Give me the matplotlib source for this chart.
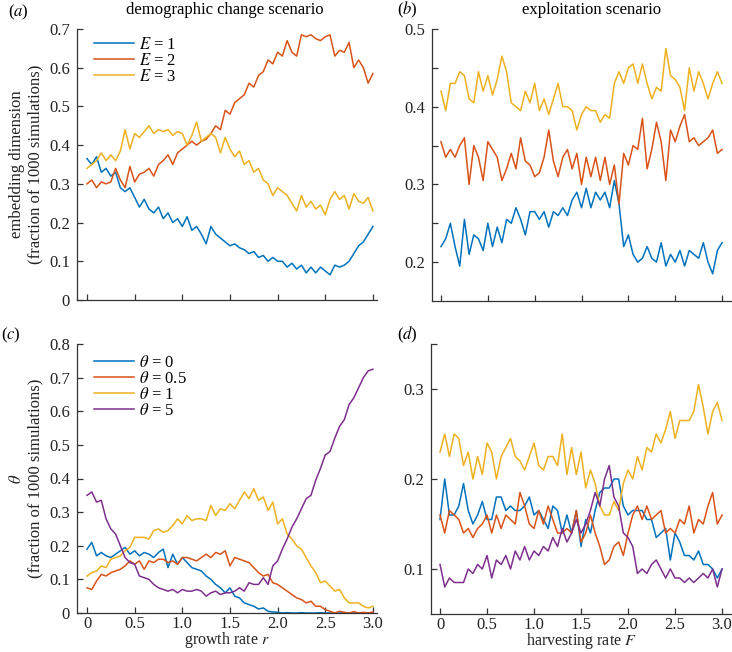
import numpy as np
import matplotlib
matplotlib.use("Agg")
import matplotlib.pyplot as plt

plt.rcParams['font.family'] = ['Liberation Serif', 'DejaVu Serif']
plt.rcParams['mathtext.fontset'] = 'stix'

# x grid (growth rate r / harvesting rate F)
x = np.linspace(0, 3, 61)

# (a) demographic change: embedding dimension
a_E1 = [0.365, 0.35, 0.37, 0.33, 0.34, 0.32, 0.33, 0.29, 0.28, 0.29, 0.265, 0.24, 0.26, 0.235, 0.225, 0.24,
        0.21, 0.225, 0.2, 0.21, 0.19, 0.215, 0.18, 0.19, 0.17, 0.145, 0.19, 0.17, 0.16, 0.15, 0.14, 0.145,
        0.135, 0.13, 0.12, 0.125, 0.11, 0.115, 0.1, 0.11, 0.1, 0.1, 0.085, 0.095, 0.08, 0.09, 0.07, 0.085,
        0.07, 0.085, 0.075, 0.065, 0.09, 0.085, 0.09, 0.1, 0.12, 0.14, 0.15, 0.17, 0.19]
a_E2 = [0.3, 0.31, 0.29, 0.305, 0.3, 0.305, 0.34, 0.31, 0.29, 0.345, 0.305, 0.325, 0.33, 0.34, 0.32, 0.35,
        0.36, 0.375, 0.35, 0.38, 0.39, 0.4, 0.41, 0.4, 0.41, 0.415, 0.43, 0.45, 0.44, 0.49, 0.48, 0.51,
        0.52, 0.53, 0.56, 0.55, 0.58, 0.59, 0.62, 0.61, 0.64, 0.63, 0.67, 0.64, 0.63, 0.685, 0.68, 0.685,
        0.675, 0.67, 0.68, 0.685, 0.63, 0.645, 0.64, 0.665, 0.6, 0.62, 0.6, 0.56, 0.585]
a_E3 = [0.34, 0.35, 0.36, 0.38, 0.36, 0.375, 0.36, 0.385, 0.44, 0.39, 0.43, 0.42, 0.435, 0.45, 0.43, 0.44,
        0.435, 0.44, 0.425, 0.435, 0.43, 0.4, 0.425, 0.46, 0.41, 0.42, 0.43, 0.42, 0.38, 0.42, 0.39, 0.37,
        0.385, 0.35, 0.36, 0.33, 0.34, 0.31, 0.3, 0.27, 0.29, 0.28, 0.27, 0.25, 0.23, 0.27, 0.24, 0.255,
        0.235, 0.245, 0.22, 0.26, 0.28, 0.26, 0.27, 0.235, 0.275, 0.255, 0.25, 0.265, 0.23]

# (b) exploitation: embedding dimension
b_E1 = [0.22, 0.23, 0.25, 0.22, 0.195, 0.255, 0.21, 0.235, 0.23, 0.215, 0.25, 0.22, 0.245, 0.225, 0.255,
        0.25, 0.27, 0.255, 0.235, 0.265, 0.265, 0.255, 0.265, 0.245, 0.265, 0.26, 0.27, 0.26, 0.28, 0.29,
        0.27, 0.295, 0.27, 0.29, 0.28, 0.29, 0.27, 0.305, 0.275, 0.22, 0.235, 0.21, 0.2, 0.205, 0.22,
        0.205, 0.2, 0.225, 0.195, 0.21, 0.2, 0.215, 0.195, 0.215, 0.21, 0.205, 0.225, 0.2, 0.185, 0.215,
        0.225]
b_E2 = [0.355, 0.335, 0.345, 0.335, 0.35, 0.36, 0.3, 0.35, 0.335, 0.305, 0.355, 0.345, 0.335, 0.305, 0.32,
        0.34, 0.32, 0.36, 0.33, 0.325, 0.31, 0.315, 0.335, 0.37, 0.33, 0.31, 0.335, 0.345, 0.32, 0.34,
        0.3, 0.335, 0.31, 0.335, 0.305, 0.335, 0.3, 0.325, 0.275, 0.34, 0.325, 0.35, 0.345, 0.385, 0.32,
        0.345, 0.38, 0.355, 0.305, 0.37, 0.355, 0.375, 0.39, 0.355, 0.36, 0.35, 0.355, 0.36, 0.37, 0.34,
        0.345]
b_E3 = [0.42, 0.395, 0.43, 0.43, 0.445, 0.44, 0.41, 0.405, 0.445, 0.42, 0.44, 0.415, 0.435, 0.465, 0.445,
        0.405, 0.4, 0.395, 0.42, 0.405, 0.43, 0.395, 0.41, 0.39, 0.41, 0.43, 0.4, 0.4, 0.395, 0.37,
        0.39, 0.4, 0.395, 0.395, 0.38, 0.39, 0.385, 0.43, 0.445, 0.43, 0.45, 0.455, 0.43, 0.455, 0.43,
        0.41, 0.425, 0.42, 0.475, 0.44, 0.435, 0.425, 0.395, 0.45, 0.42, 0.445, 0.43, 0.41, 0.43, 0.445,
        0.43]

# (c) demographic change: theta
c_t0 = [0.19, 0.21, 0.17, 0.18, 0.17, 0.165, 0.175, 0.185, 0.195, 0.175, 0.185, 0.17, 0.18, 0.175, 0.165,
        0.18, 0.19, 0.135, 0.175, 0.145, 0.165, 0.15, 0.135, 0.13, 0.125, 0.11, 0.1, 0.085, 0.075, 0.06,
        0.075, 0.05, 0.045, 0.03, 0.025, 0.02, 0.012, 0.015, 0.005, 0.003, 0.002, 0.0, 0.001, 0.0, 0.0,
        0.001, 0.0, 0.0, 0.0, 0.001, 0.0, 0.0, 0.0, 0.0, 0.001, 0.0, 0.0, 0.0, 0.0, 0.0, 0.0]
c_t05 = [0.075, 0.07, 0.095, 0.115, 0.11, 0.12, 0.125, 0.13, 0.14, 0.155, 0.145, 0.155, 0.13, 0.155, 0.15,
         0.16, 0.16, 0.15, 0.155, 0.145, 0.165, 0.165, 0.16, 0.155, 0.165, 0.175, 0.165, 0.18, 0.175, 0.185,
         0.14, 0.165, 0.16, 0.155, 0.15, 0.135, 0.12, 0.11, 0.115, 0.09, 0.085, 0.075, 0.065, 0.055, 0.045,
         0.04, 0.03, 0.035, 0.02, 0.02, 0.01, 0.005, 0.0, 0.005, 0.002, 0.0, 0.004, 0.0, 0.002, 0.0, 0.003]
c_t1 = [0.11, 0.12, 0.125, 0.14, 0.135, 0.16, 0.165, 0.17, 0.185, 0.195, 0.225, 0.225, 0.225, 0.22, 0.245,
        0.25, 0.24, 0.245, 0.26, 0.28, 0.265, 0.29, 0.275, 0.28, 0.28, 0.275, 0.32, 0.29, 0.31, 0.305,
        0.325, 0.31, 0.335, 0.36, 0.34, 0.37, 0.335, 0.345, 0.305, 0.33, 0.265, 0.28, 0.235, 0.22, 0.2,
        0.19, 0.165, 0.14, 0.12, 0.09, 0.095, 0.08, 0.065, 0.07, 0.045, 0.03, 0.03, 0.03, 0.02, 0.015, 0.02]
c_t5 = [0.35, 0.36, 0.33, 0.335, 0.28, 0.25, 0.235, 0.2, 0.165, 0.15, 0.145, 0.11, 0.105, 0.1, 0.085,
        0.075, 0.07, 0.065, 0.07, 0.06, 0.07, 0.065, 0.065, 0.07, 0.065, 0.05, 0.06, 0.065, 0.055, 0.06,
        0.06, 0.065, 0.075, 0.065, 0.09, 0.085, 0.085, 0.105, 0.085, 0.14, 0.155, 0.19, 0.22, 0.255, 0.28,
        0.31, 0.34, 0.35, 0.395, 0.43, 0.47, 0.48, 0.52, 0.555, 0.575, 0.62, 0.64, 0.67, 0.7, 0.72, 0.725]

# (d) exploitation: theta
d_t0 = [0.155, 0.2, 0.16, 0.16, 0.17, 0.195, 0.165, 0.15, 0.16, 0.175, 0.155, 0.155, 0.18, 0.18, 0.165,
        0.17, 0.165, 0.165, 0.17, 0.18, 0.16, 0.165, 0.155, 0.145, 0.17, 0.165, 0.14, 0.16, 0.14, 0.165,
        0.125, 0.155, 0.14, 0.165, 0.185, 0.19, 0.19, 0.2, 0.2, 0.17, 0.16, 0.165, 0.165, 0.165, 0.155,
        0.155, 0.135, 0.14, 0.145, 0.11, 0.14, 0.13, 0.115, 0.115, 0.11, 0.12, 0.105, 0.105, 0.1, 0.09, 0.1]
d_t05 = [0.16, 0.14, 0.165, 0.16, 0.155, 0.14, 0.145, 0.135, 0.145, 0.15, 0.16, 0.14, 0.16, 0.145, 0.16,
         0.155, 0.15, 0.185, 0.17, 0.15, 0.145, 0.165, 0.15, 0.17, 0.155, 0.14, 0.14, 0.145, 0.14, 0.165,
         0.13, 0.14, 0.16, 0.14, 0.125, 0.105, 0.11, 0.125, 0.13, 0.115, 0.14, 0.16, 0.17, 0.155, 0.17,
         0.155, 0.16, 0.165, 0.14, 0.145, 0.14, 0.155, 0.15, 0.17, 0.14, 0.155, 0.15, 0.17, 0.185, 0.15, 0.16]
d_t1 = [0.23, 0.25, 0.225, 0.25, 0.245, 0.215, 0.23, 0.2, 0.225, 0.205, 0.24, 0.23, 0.2, 0.225, 0.235,
        0.245, 0.225, 0.22, 0.21, 0.225, 0.24, 0.215, 0.21, 0.225, 0.225, 0.215, 0.25, 0.205, 0.235, 0.205,
        0.23, 0.19, 0.21, 0.195, 0.17, 0.16, 0.16, 0.175, 0.165, 0.195, 0.21, 0.2, 0.225, 0.21, 0.235,
        0.23, 0.25, 0.24, 0.255, 0.275, 0.245, 0.265, 0.265, 0.265, 0.275, 0.305, 0.28, 0.25, 0.275, 0.285,
        0.265]
d_t5 = [0.105, 0.08, 0.09, 0.085, 0.085, 0.085, 0.1, 0.095, 0.105, 0.1, 0.115, 0.09, 0.11, 0.105, 0.115,
        0.1, 0.12, 0.11, 0.125, 0.11, 0.12, 0.115, 0.125, 0.12, 0.135, 0.125, 0.145, 0.13, 0.14, 0.155,
        0.14, 0.15, 0.165, 0.185, 0.17, 0.2, 0.215, 0.18, 0.17, 0.14, 0.135, 0.125, 0.095, 0.1, 0.095,
        0.105, 0.11, 0.1, 0.09, 0.1, 0.09, 0.09, 0.085, 0.09, 0.085, 0.09, 0.095, 0.09, 0.1, 0.08, 0.1]

xticks = [0, 0.5, 1.0, 1.5, 2.0, 2.5, 3.0]
xticklabels = ['0', '0.5', '1.0', '1.5', '2.0', '2.5', '3.0']

blue, red, yellow, purple = '#0072BD', '#D95319', '#EDB120', '#7E2F8E'
axcol = '#333333'

W, H = 732, 652
fig = plt.figure(figsize=(W / 100, H / 100), dpi=100)


def px_axes(left, top, right, bottom):
    return fig.add_axes([left / W, 1 - bottom / H, (right - left) / W, (bottom - top) / H])


def style(ax):
    for s in ['top', 'right']:
        ax.spines[s].set_visible(False)
    for s in ['left', 'bottom']:
        ax.spines[s].set_color(axcol)
        ax.spines[s].set_linewidth(0.9)
    ax.tick_params(direction='in', length=4, width=0.9, color=axcol, labelcolor='#222222',
                   labelsize=12)
    ax.tick_params(axis='y', pad=5)
    ax.tick_params(axis='x', pad=2)


ax_a = px_axes(77, 29, 377, 300)
ax_b = px_axes(432, 29, 732, 301)
ax_c = px_axes(77, 344, 377, 613)
ax_d = px_axes(431, 344, 732, 614)

lw = 1.1
ax_a.plot(x, a_E1, color=blue, lw=lw, label=r'$E$ = 1')
ax_a.plot(x, a_E2, color=red, lw=lw, label=r'$E$ = 2')
ax_a.plot(x, a_E3, color=yellow, lw=lw, label=r'$E$ = 3')
ax_b.plot(x, b_E1, color=blue, lw=lw)
ax_b.plot(x, b_E2, color=red, lw=lw)
ax_b.plot(x, b_E3, color=yellow, lw=lw)
ax_c.plot(x, c_t0, color=blue, lw=lw, label=r'$\theta$ = 0')
ax_c.plot(x, c_t05, color=red, lw=lw, label=r'$\theta$ = 0.5')
ax_c.plot(x, c_t1, color=yellow, lw=lw, label=r'$\theta$ = 1')
ax_c.plot(x, c_t5, color=purple, lw=lw, label=r'$\theta$ = 5')
ax_d.plot(x, d_t0, color=blue, lw=lw)
ax_d.plot(x, d_t05, color=red, lw=lw)
ax_d.plot(x, d_t1, color=yellow, lw=lw)
ax_d.plot(x, d_t5, color=purple, lw=lw)

for ax in [ax_a, ax_b, ax_c, ax_d]:
    style(ax)
    ax.set_xticks(xticks)

ax_a.set_xlim(-0.105, 3.043)
ax_c.set_xlim(-0.105, 3.043)
ax_b.set_xlim(-0.096, 3.106)
ax_d.set_xlim(-0.096, 3.106)
ax_a.set_xticklabels([])
ax_b.set_xticklabels([])
ax_c.set_xticklabels(xticklabels)
ax_d.set_xticklabels(xticklabels)

ax_a.set_ylim(0, 0.7)
ax_a.set_yticks(np.arange(0, 0.71, 0.1))
ax_a.set_yticklabels(['0', '0.1', '0.2', '0.3', '0.4', '0.5', '0.6', '0.7'])
ax_b.set_ylim(0.15, 0.5)
ax_b.set_yticks([0.2, 0.25, 0.3, 0.35, 0.4, 0.45, 0.5])
ax_b.set_yticklabels(['0.2', '', '0.3', '', '0.4', '', '0.5'])
ax_c.set_ylim(0, 0.8)
ax_c.set_yticks(np.arange(0, 0.81, 0.1))
ax_c.set_yticklabels(['0', '0.1', '0.2', '0.3', '0.4', '0.5', '0.6', '0.7', '0.8'])
ax_d.set_ylim(0.05, 0.35)
ax_d.set_yticks([0.1, 0.2, 0.3, 0.35])
ax_d.set_yticklabels(['0.1', '0.2', '0.3', ''])

leg_kw = dict(loc='upper left', frameon=False, fontsize=12, handlelength=2.4, handletextpad=0.3,
              labelspacing=0.0, borderaxespad=0.0)
ax_a.legend(bbox_to_anchor=(0.035, 0.995), **leg_kw)
ax_c.legend(bbox_to_anchor=(0.035, 0.985), **leg_kw)

ax_a.set_ylabel('embedding dimension\n(fraction of 1000 simulations)', fontsize=12, labelpad=4,
                color='#222222')
ax_c.set_ylabel('$\\theta$\n(fraction of 1000 simulations)', fontsize=12, labelpad=4, color='#222222')
ax_c.set_xlabel('growth rate $r$', fontsize=11.5, labelpad=-1, color='#222222')
ax_d.set_xlabel('harvesting rate $F$', fontsize=11.5, labelpad=-1, color='#222222')

fig.text(8 / W, 1 - 12 / H, '($a$)', fontsize=12, va='center', ha='left')
fig.text(225 / W, 1 - 10 / H, 'demographic change scenario', fontsize=12, va='center', ha='center')
fig.text(397 / W, 1 - 10 / H, '($b$)', fontsize=12, va='center', ha='left')
fig.text(592 / W, 1 - 10 / H, 'exploitation scenario', fontsize=12, va='center', ha='center')
fig.text(1 / W, 1 - 335 / H, '($c$)', fontsize=12, va='center', ha='left')
fig.text(397 / W, 1 - 335 / H, '($d$)', fontsize=12, va='center', ha='left')

fig.savefig('out.png', dpi=100)
